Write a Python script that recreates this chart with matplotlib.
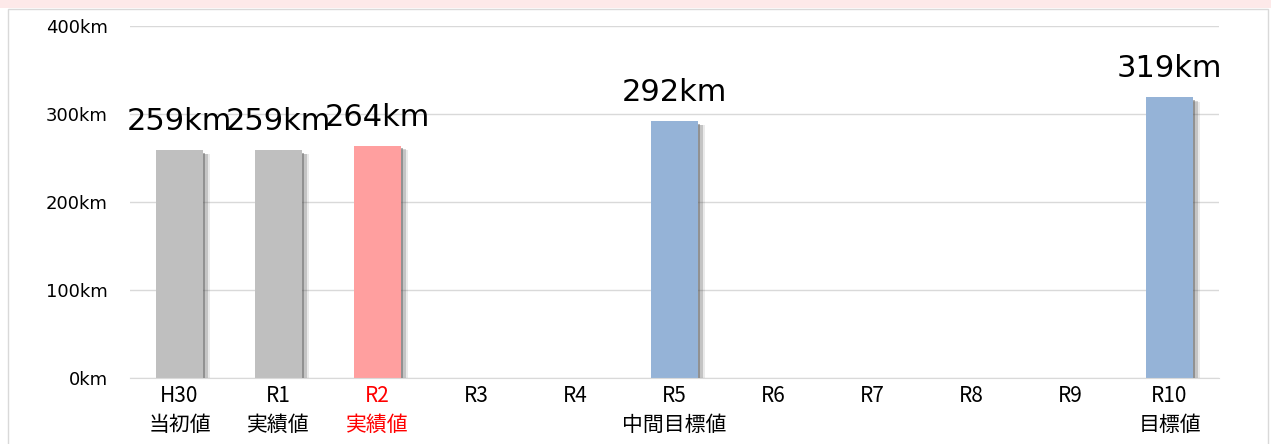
import matplotlib
matplotlib.use("Agg")
import matplotlib.pyplot as plt
from matplotlib.patches import Rectangle

plt.rcParams['font.family'] = ['Noto Sans CJK JP', 'DejaVu Sans']

categories = ["H30\n当初値", "R1\n実績値", "R2\n実績値", "R3", "R4", "R5\n中間目標値",
              "R6", "R7", "R8", "R9", "R10\n目標値"]
values = [259, 259, 264, None, None, 292, None, None, None, None, 319]
bar_colors = ["#bfbfbf", "#bfbfbf", "#ff9f9f", None, None, "#95b3d7",
              None, None, None, None, "#95b3d7"]
label_colors = ["black", "black", "red", "black", "black", "black",
                "black", "black", "black", "black", "black"]
yticks = [0, 100, 200, 300, 400]
ytick_labels = ["0km", "100km", "200km", "300km", "400km"]

fig = plt.figure(figsize=(12.71, 4.44), dpi=100)
# top pink band and frame
fig.patches.append(Rectangle((0, 1 - 8/444), 1, 8/444, transform=fig.transFigure,
                             facecolor="#fde9e9", edgecolor="none", zorder=-2))
fig.patches.append(Rectangle((8/1271, -0.01), (1268-8)/1271, (444-9)/444 + 0.01,
                             transform=fig.transFigure, facecolor="white",
                             edgecolor="#d9d9d9", linewidth=1, zorder=-1))

ax = fig.add_axes([130/1271, 1 - 378/444, (1219-130)/1271, (378-26)/444])
ax.set_facecolor("none")

x = list(range(len(categories)))
w = 0.475
for i, (v, c) in enumerate(zip(values, bar_colors)):
    if v is None:
        continue
    # soft shadow on the right
    for k, a in enumerate([0.45, 0.25, 0.12]):
        ax.bar(i + 0.025 + 0.025 * k, v - 3 - k, width=w, color="#555555", alpha=a,
               zorder=2, linewidth=0)
    ax.bar(i, v, width=w, color=c, zorder=3, linewidth=0)
    ax.annotate(f"{v}km", (i, v), xytext=(0, 10), textcoords="offset points",
                ha="center", va="bottom", fontsize=22, color="black",
                family=['DejaVu Sans'], zorder=4)

ax.set_xlim(-0.5, len(categories) - 0.5)
ax.set_ylim(0, 400)
ax.set_yticks(yticks)
ax.set_yticklabels(ytick_labels, fontsize=13, family=['DejaVu Sans'])
ax.set_xticks(x)
ax.set_xticklabels(categories, fontsize=15, linespacing=1.4)
for lbl, col in zip(ax.get_xticklabels(), label_colors):
    lbl.set_color(col)
    lbl.set_verticalalignment("top")
ax.tick_params(axis="y", length=0, pad=16)
ax.tick_params(axis="x", length=0, pad=5)
ax.grid(axis="y", color="#d9d9d9", linewidth=1, zorder=0)
for s in ["top", "right", "left"]:
    ax.spines[s].set_visible(False)
ax.spines["bottom"].set_color("#d9d9d9")
ax.spines["bottom"].set_zorder(5)

fig.savefig("out.png", dpi=100)
